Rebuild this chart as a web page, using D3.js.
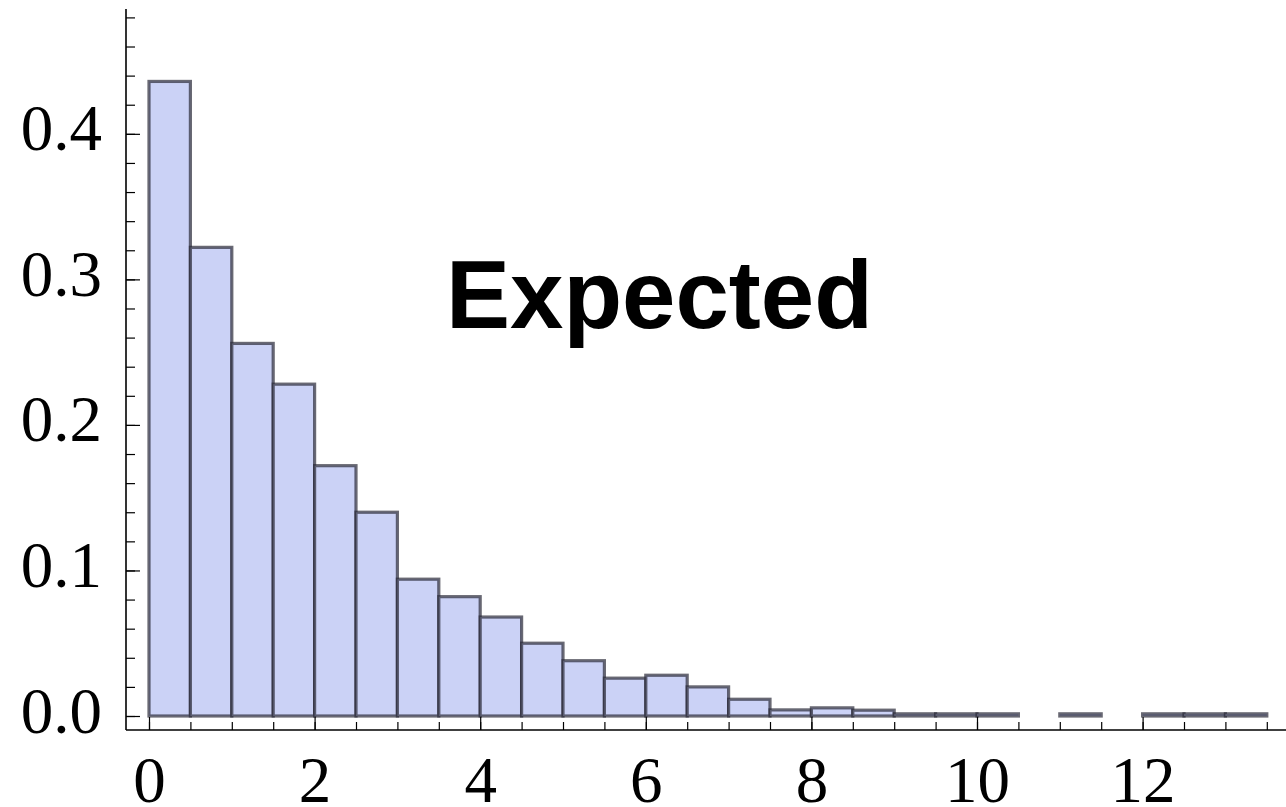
<!DOCTYPE html>
<html>
<head>
<meta charset="utf-8">
<script src="https://cdn.jsdelivr.net/npm/d3@7"></script>
<style>
  body { margin: 0; background: #fff; }
  svg { display: block; }
</style>
</head>
<body>
<svg id="chart" width="1286" height="807"></svg>
<script>
// Histogram bins (left edges), bin width and probability density per bin
const binStarts = [0, 0.5, 1, 1.5, 2, 2.5, 3, 3.5, 4, 4.5, 5, 5.5, 6, 6.5,
                   7, 7.5, 8, 8.5, 9, 9.5, 10, 10.5, 11, 11.5, 12, 12.5, 13];
const binWidth = 0.5;
const densities = [0.436, 0.322, 0.256, 0.228, 0.172, 0.140, 0.094, 0.082, 0.068,
                   0.050, 0.038, 0.026, 0.028, 0.020, 0.0115, 0.0042, 0.0056, 0.004,
                   0.0015, 0.0015, 0.0015, 0, 0.0015, 0, 0.0015, 0.0015, 0.0015];

const xMajorTicks = [0, 2, 4, 6, 8, 10, 12];
const xMinorTicks = d3.range(0, 13.51, 0.5);
const yMajorTicks = [0, 0.1, 0.2, 0.3, 0.4];
const yMinorTicks = d3.range(0, 0.481, 0.02);
const titleText = "Expected";

const svg = d3.select("#chart");

// Frame: axes are offset from the data region, Mathematica style
const axisX = 126;     // vertical axis position (px)
const axisY = 730;     // horizontal axis position (px)

const x = d3.scaleLinear().domain([0, 13.5]).range([149, 1266.8]);
const y = d3.scaleLinear().domain([0, 0.48]).range([716, 17.4]);

// Bars
const bars = binStarts.map((b, i) => ({ x0: b, x1: b + binWidth, v: densities[i] }))
  .filter(d => d.v > 0);

svg.append("g")
  .selectAll("rect")
  .data(bars)
  .join("rect")
  .attr("x", d => x(d.x0))
  .attr("width", d => x(d.x1) - x(d.x0))
  .attr("y", d => y(d.v))
  .attr("height", d => y(0) - y(d.v))
  .attr("fill", "rgb(203,210,246)")
  .attr("stroke", "#2a2a38")
  .attr("stroke-opacity", 0.7)
  .attr("stroke-width", 3.2);

// Horizontal axis: minor and major ticks pointing inward
const gx = svg.append("g").attr("transform", `translate(0,${axisY})`);
gx.append("g")
  .call(d3.axisBottom(x).tickValues(xMinorTicks).tickSize(-8).tickFormat(""))
  .call(g => g.select(".domain").remove());
gx.append("g")
  .call(d3.axisBottom(x).tickValues(xMajorTicks).tickSize(-13).tickFormat(d3.format("d")))
  .call(g => g.select(".domain").remove())
  .call(g => g.selectAll("text")
    .attr("y", 72).attr("dy", null)
    .attr("font-family", "'Liberation Serif', 'Times New Roman', serif")
    .attr("font-size", 65)
    .attr("fill", "#000"));
gx.selectAll(".tick line").attr("stroke", "#000").attr("stroke-width", 1.2);
gx.append("line")
  .attr("x1", axisX).attr("x2", 1286)
  .attr("stroke", "#000").attr("stroke-width", 1.6);

// Vertical axis
const gy = svg.append("g").attr("transform", `translate(${axisX},0)`);
gy.append("g")
  .call(d3.axisLeft(y).tickValues(yMinorTicks).tickSize(-9).tickFormat(""))
  .call(g => g.select(".domain").remove());
gy.append("g")
  .call(d3.axisLeft(y).tickValues(yMajorTicks).tickSize(-14).tickFormat(d3.format(".1f")))
  .call(g => g.select(".domain").remove())
  .call(g => g.selectAll("text")
    .attr("x", -24).attr("dy", 16)
    .attr("text-anchor", "end")
    .attr("font-family", "'Liberation Serif', 'Times New Roman', serif")
    .attr("font-size", 65)
    .attr("fill", "#000"));
gy.selectAll(".tick line").attr("stroke", "#000").attr("stroke-width", 1.2);
gy.append("line")
  .attr("y1", 9).attr("y2", axisY)
  .attr("stroke", "#000").attr("stroke-width", 1.6);

// Title inside the plot
svg.append("text")
  .attr("x", 446)
  .attr("y", 328)
  .attr("font-family", "'Liberation Sans', Arial, Helvetica, sans-serif")
  .attr("font-weight", "bold")
  .attr("font-size", 96)
  .attr("fill", "#000")
  .text(titleText);
</script>
</body>
</html>
